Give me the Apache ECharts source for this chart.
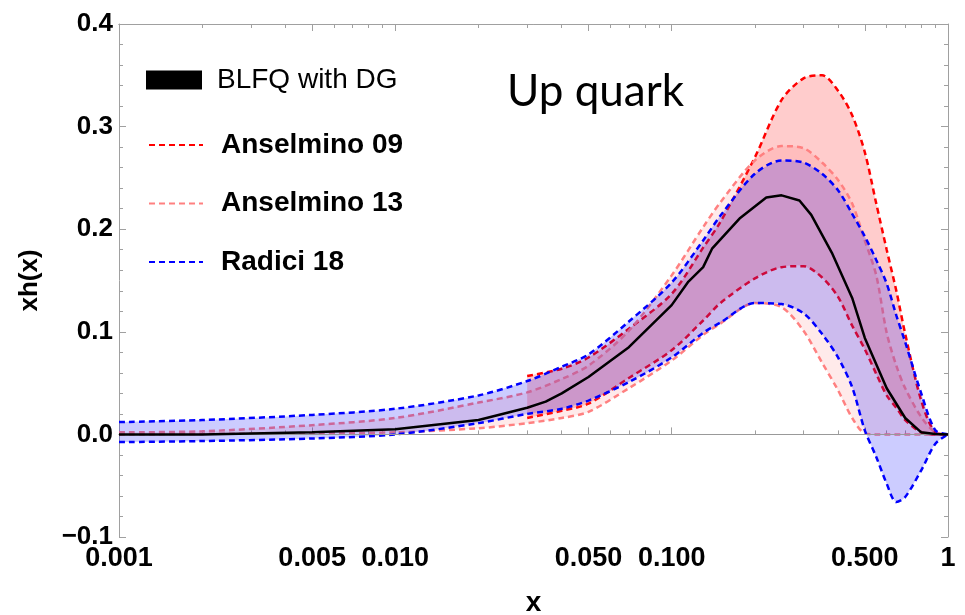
<!DOCTYPE html>
<html>
<head>
<meta charset="utf-8">
<script src="https://cdn.jsdelivr.net/npm/echarts@6/dist/echarts.min.js"></script>
<style>
html, body { margin: 0; padding: 0; background: #fff; }
#chart { width: 965px; height: 615px; }
</style>
</head>
<body>
<div id="chart"></div>
<script>
// x grid shared by the Anselmino 13 and Radici 18 bands
var xGrid = [0.001, 0.002, 0.005, 0.01, 0.02, 0.03, 0.04, 0.05, 0.07, 0.1, 0.13, 0.15, 0.2,
    0.25, 0.3, 0.35, 0.4, 0.45, 0.5, 0.55, 0.6, 0.65, 0.7, 0.8, 0.9, 1.0];

var radiciUp = [0.012, 0.014, 0.019, 0.025, 0.038, 0.052, 0.066, 0.078, 0.110, 0.148, 0.189, 0.213, 0.254,
    0.267, 0.265, 0.254, 0.238, 0.215, 0.193, 0.170, 0.147, 0.116, 0.090, 0.040, 0.004, 0.0];
var radiciLo = [-0.0075, -0.0065, -0.004, 0.0, 0.011, 0.020, 0.025, 0.033, 0.051, 0.075, 0.099, 0.109, 0.128,
    0.127, 0.118, 0.098, 0.075, 0.046, 0.004, -0.022, -0.048, -0.066, -0.061, -0.035, -0.009, 0.0];

var a13Up = [0.002, 0.003, 0.009, 0.016, 0.031, 0.041, 0.054, 0.067, 0.101, 0.155, 0.202, 0.226, 0.267,
    0.281, 0.279, 0.265, 0.248, 0.225, 0.189, 0.155, 0.099, 0.067, 0.045, 0.017, 0.002, 0.0];
var a13Lo = [0.0, 0.0005, 0.001, 0.002, 0.006, 0.011, 0.016, 0.022, 0.045, 0.072, 0.097, 0.108, 0.128,
    0.124, 0.101, 0.070, 0.043, 0.016, 0.001, 0.0, 0.0, 0.0, 0.0, 0.0, 0.0, 0.0];

// Anselmino 09 only starts at x = 0.03
var xA09 = [0.03, 0.04, 0.05, 0.07, 0.1, 0.13, 0.15, 0.2, 0.25, 0.3, 0.35, 0.4, 0.45, 0.5, 0.55, 0.6,
    0.65, 0.7, 0.8, 0.9, 1.0];
var a09Up = [0.057, 0.064, 0.075, 0.103, 0.137, 0.182, 0.207, 0.270, 0.326, 0.347, 0.350, 0.335, 0.311, 0.275,
    0.225, 0.180, 0.140, 0.098, 0.033, 0.002, 0.0];
var a09Lo = [0.016, 0.023, 0.030, 0.055, 0.082, 0.111, 0.128, 0.152, 0.163, 0.164, 0.153, 0.134, 0.106, 0.083,
    0.059, 0.038, 0.026, 0.014, 0.002, 0.0, 0.0];

var xBlfq = [0.001, 0.002, 0.005, 0.01, 0.02, 0.03, 0.035, 0.04, 0.05, 0.07, 0.1, 0.115, 0.13, 0.14, 0.177,
    0.22, 0.25, 0.29, 0.32, 0.38, 0.45, 0.5, 0.6, 0.7, 0.8, 0.9, 1.0];
var blfq = [0.0, 0.0, 0.002, 0.005, 0.014, 0.026, 0.032, 0.040, 0.056, 0.085, 0.126, 0.149, 0.163, 0.181, 0.211,
    0.231, 0.233, 0.228, 0.214, 0.177, 0.133, 0.094, 0.045, 0.016, 0.002, 0.0005, 0.0];

var xMajor = [0.001, 0.005, 0.01, 0.05, 0.1, 0.5, 1];
var xMajorLabels = ['0.001', '0.005', '0.010', '0.050', '0.100', '0.500', '1'];
var xMinor = [0.002, 0.003, 0.004, 0.006, 0.007, 0.008, 0.009, 0.02, 0.03, 0.04, 0.06, 0.07, 0.08, 0.09,
    0.2, 0.3, 0.4, 0.6, 0.7, 0.8, 0.9];

var frameColor = '#a0a0a0';
var labelFont = 'Liberation Sans';
var SMOOTH = 0.3;

function pairs(xs, ys) {
    return xs.map(function (x, i) { return [x, ys[i]]; });
}

// filled polygon between two edges, in data coordinates via api.coord
function bandFill(name, xs, up, lo, fill, z) {
    return {
        name: name + ' fill',
        type: 'custom',
        coordinateSystem: 'cartesian2d',
        data: [[xs[0], lo[0]]],
        silent: true,
        z: z,
        renderItem: function (params, api) {
            var pts = [], i, n = xs.length;
            pts.push(api.coord([xs[0], up[0]]));
            for (i = 0; i < n; i++) pts.push(api.coord([xs[i], up[i]]));
            pts.push(api.coord([xs[n - 1], up[n - 1]]));
            pts.push(api.coord([xs[n - 1], lo[n - 1]]));
            for (i = n - 1; i >= 0; i--) pts.push(api.coord([xs[i], lo[i]]));
            pts.push(api.coord([xs[0], lo[0]]));
            return { type: 'polygon', shape: { points: pts, smooth: SMOOTH }, style: { fill: fill } };
        }
    };
}

function edge(name, xs, ys, color, z) {
    return {
        name: name,
        type: 'line',
        data: pairs(xs, ys),
        symbol: 'none',
        smooth: SMOOTH,
        itemStyle: { color: color },
        lineStyle: { color: color, width: 2.5, type: [6, 4] },
        z: z
    };
}

function band(name, xs, up, lo, color, fill, z) {
    return [
        bandFill(name, xs, up, lo, fill, z),
        edge(name, xs, lo, color, z),
        edge(name + ' upper', xs, up, color, z)
    ];
}

function xLabel(v) {
    for (var i = 0; i < xMajor.length; i++) {
        if (Math.abs(Math.log10(v) - Math.log10(xMajor[i])) < 1e-6) return xMajorLabels[i];
    }
    return '';
}

function xAxisDef(pos, values, len, labels) {
    return {
        type: 'log',
        logBase: 10,
        min: 0.001,
        max: 1,
        position: pos,
        axisLine: { show: true, lineStyle: { color: frameColor, width: 1 } },
        axisTick: { show: true, inside: true, length: len, customValues: values,
            lineStyle: { color: frameColor, width: 1 } },
        axisLabel: labels ? {
            show: true, customValues: values, formatter: xLabel, margin: 8,
            color: '#000', fontSize: 27, fontWeight: 'bold', fontFamily: labelFont
        } : { show: false },
        splitLine: { show: false },
        minorTick: { show: false },
        name: labels ? 'x' : '',
        nameLocation: 'middle',
        nameGap: 52,
        nameTextStyle: { color: '#000', fontSize: 28, fontWeight: 'bold', fontFamily: labelFont }
    };
}

function yAxisDef(pos, labels) {
    return {
        type: 'value',
        min: -0.1,
        max: 0.4,
        interval: 0.1,
        position: pos,
        axisLine: { show: true, lineStyle: { color: frameColor, width: 1 } },
        axisTick: { show: true, inside: true, length: 7, lineStyle: { color: frameColor } },
        minorTick: { show: true, splitNumber: 5, length: 4, lineStyle: { color: frameColor } },
        axisLabel: labels ? {
            show: true, margin: 6, color: '#000', fontSize: 26, fontWeight: 'bold', fontFamily: labelFont,
            formatter: function (v) {
                return v < 0 ? '\u2212' + Math.abs(v).toFixed(1) : v.toFixed(1);
            }
        } : { show: false },
        splitLine: { show: false },
        name: labels ? 'xh(x)' : '',
        nameLocation: 'middle',
        nameGap: 76,
        nameTextStyle: { color: '#000', fontSize: 26, fontWeight: 'bold', fontFamily: labelFont }
    };
}

var series = []
    .concat(band('Anselmino 09', xA09, a09Up, a09Lo, '#ff0000', 'rgba(255,0,0,0.2)', 2))
    .concat(band('Anselmino 13', xGrid, a13Up, a13Lo, '#ff8080', 'rgba(255,90,90,0.13)', 3))
    .concat(band('Radici 18', xGrid, radiciUp, radiciLo, '#0000ff', 'rgba(0,0,255,0.2)', 4));

series.push({
    name: 'BLFQ with DG',
    type: 'line',
    data: pairs(xBlfq, blfq),
    symbol: 'none',
    itemStyle: { color: '#000' },
    lineStyle: { color: '#000', width: 2.5 },
    z: 5,
    markLine: {
        silent: true,
        symbol: ['none', 'none'],
        label: { show: false },
        lineStyle: { color: '#999', width: 1, type: 'solid' },
        data: [{ yAxis: 0 }]
    }
});

var myChart = echarts.init(document.getElementById('chart'));

var option = {
    animation: false,
    backgroundColor: '#fff',
    grid: { left: 119, right: 17, top: 24, bottom: 78, outerBoundsMode: 'none' },
    title: {
        text: 'Up quark',
        left: 507,
        top: 70,
        padding: 0,
        textStyle: { fontFamily: 'Lato', fontSize: 44, fontWeight: 'normal', color: '#000' }
    },
    legend: [{
        data: [{ name: 'BLFQ with DG', icon: 'rect' }],
        left: 146,
        top: 63,
        padding: 0,
        itemWidth: 56,
        itemHeight: 19,
        selectedMode: false,
        textStyle: { fontFamily: labelFont, fontSize: 28, color: '#000', lineHeight: 34, padding: [0, 0, 0, 10] }
    }, {
        data: ['Anselmino 09', 'Anselmino 13', 'Radici 18'],
        orient: 'vertical',
        left: 148,
        top: 128,
        padding: 0,
        itemWidth: 54,
        itemHeight: 18,
        itemGap: 24.5,
        selectedMode: false,
        itemStyle: { opacity: 0 },
        lineStyle: { width: 2 },
        textStyle: { fontFamily: labelFont, fontSize: 28, fontWeight: 'bold', color: '#000', lineHeight: 34,
            padding: [0, 0, 0, 13] }
    }],
    xAxis: [
        xAxisDef('bottom', xMajor, 7, true),
        xAxisDef('bottom', xMinor, 4, false),
        xAxisDef('top', xMajor, 7, false),
        xAxisDef('top', xMinor, 4, false)
    ],
    yAxis: [
        yAxisDef('left', true),
        yAxisDef('right', false)
    ],
    series: series
};

myChart.setOption(option);
</script>
</body>
</html>
